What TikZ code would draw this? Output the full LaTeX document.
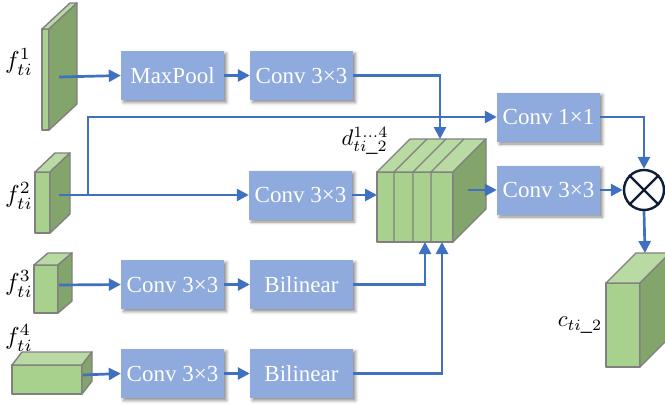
\documentclass[tikz,border=0pt]{standalone}
\usepackage{fontspec}
\setmainfont{Liberation Serif}
\usetikzlibrary{arrows.meta,shadows.blur,calc}

\definecolor{boxblue}{RGB}{143,170,220}
\definecolor{linkblue}{RGB}{64,112,192}
\definecolor{gfront}{RGB}{169,209,142}
\definecolor{gtop}{RGB}{186,218,164}
\definecolor{gside}{RGB}{131,165,108}
\definecolor{cubeedge}{RGB}{128,128,128}
\definecolor{ringnavy}{RGB}{14,30,54}

\tikzset{
  opbox/.style={fill=boxblue, draw=none, minimum width=103pt, minimum height=49pt,
    inner sep=0pt, text=white, font=\fontsize{23}{27}\selectfont,
    blur shadow={shadow xshift=2.5pt, shadow yshift=-2.5pt, shadow blur radius=3pt, shadow opacity=45}},
  link/.style={draw=linkblue, line width=2.7pt, -{Triangle[length=12pt,width=12pt]}},
  cubeface/.style={draw=cubeedge, line width=1.4pt, line join=round},
  flabel/.style={scale=2.45, inner sep=0pt},
  mlabel/.style={scale=2.25, inner sep=0pt},
}

% cuboid: front top-left corner (x,y), width, height, depth dx, rise dy
\newcommand{\cuboid}[6]{%
  \draw[cubeface, fill=gfront] (#1,#2) rectangle ++(#3,#4);
  \draw[cubeface, fill=gtop] (#1,#2) -- ++(#5,-#6) -- ++(#3,0) -- ++(-#5,#6) -- cycle;
  \draw[cubeface, fill=gside] ({#1+#3},#2) -- ++(#5,-#6) -- ++(0,#4) -- ++(-#5,#6) -- cycle;
}

\begin{document}
\begin{tikzpicture}[x=1pt, y=-1pt]
\useasboundingbox (0,0) rectangle (665,407);
\clip (0,0) rectangle (665,407);

% input feature maps
\cuboid{42}{29}{7}{101}{28}{26}
\cuboid{35}{172}{15}{61}{20}{19}
\cuboid{34}{265}{24}{48}{14}{12}
\cuboid{12}{365}{70}{29}{10}{13}

% stacked feature block d
\cuboid{377}{172}{76}{70}{33}{33}
\foreach \sx in {394,413,431}{
  \draw[cubeface] (\sx,242) -- (\sx,172) -- ++(33,-33);
}

% output block c
\cuboid{606}{283}{34}{84}{30}{30}

% labels
\node[flabel] (lf1) at (19,62) {$f^{1}_{ti}$};
\node[flabel] (lf2) at (19,196) {$f^{2}_{ti}$};
\node[flabel] (lf3) at (19,284) {$f^{3}_{ti}$};
\node[flabel] (lf4) at (19,338) {$f^{4}_{ti}$};
\node[mlabel] (ld) at (365,141) {$d^{1\ldots4}_{ti\_2}$};
\node[mlabel] (lc) at (580,325) {$c_{ti\_2}$};

% ports on the cuboids
\coordinate (f1o) at (59,77);
\coordinate (f2o) at (59,195);
\coordinate (f3o) at (59,285);
\coordinate (f4o) at (83,375);
\coordinate (split) at (88,195);
\coordinate (dtop) at (440,139);
\coordinate (dleft) at (377,195);
\coordinate (dbot1) at (425,242);
\coordinate (dbot2) at (442,242);
\coordinate (dright) at (468,190);
\coordinate (ctop) at (645,253);

% operation boxes
\node[opbox] (mp) at (172.5,75.5) {MaxPool};
\node[opbox] (ca) at (301.5,75.5) {Conv 3×3};
\node[opbox] (cb) at (300.5,195) {Conv 3×3};
\node[opbox] (cc) at (172.5,284.5) {Conv 3×3};
\node[opbox] (bl3) at (301.5,284.5) {Bilinear};
\node[opbox] (cd) at (172.5,373.5) {Conv 3×3};
\node[opbox] (bl4) at (301.5,373.5) {Bilinear};
\node[opbox] (k1) at (548.5,117) {Conv 1×1};
\node[opbox] (k3) at (548.5,190) {Conv 3×3};
\node[circle, draw=ringnavy, fill=white, line width=2.4pt, minimum size=40pt, inner sep=0pt] (ring) at (644,190) {};
\draw[ringnavy, line width=2.4pt] (ring.north west) -- (ring.south east);
\draw[ringnavy, line width=2.4pt] (ring.north east) -- (ring.south west);

% connectors
\draw[link] (f1o) -- (mp.west);
\draw[link] (mp.east) -- (ca.west);
\draw[link] (ca.east) -| (dtop);
\draw[link] (f2o) -- (cb.west);
\draw[link] (split) |- (k1.west);
\draw[link] (cb.east) -- (dleft);
\draw[link] (f3o) -- (cc.west);
\draw[link] (cc.east) -- (bl3.west);
\draw[link] (bl3.east) -| (dbot1);
\draw[link] (f4o) -- (cd.west);
\draw[link] (cd.east) -- (bl4.west);
\draw[link] (bl4.east) -| (dbot2);
\draw[link] (dright) -- (k3.west);
\draw[link] (k1.east) -| (ring.north);
\draw[link] (k3.east) -- (ring.west);
\draw[link] (ring.south) -- (ctop);
\end{tikzpicture}
\end{document}
